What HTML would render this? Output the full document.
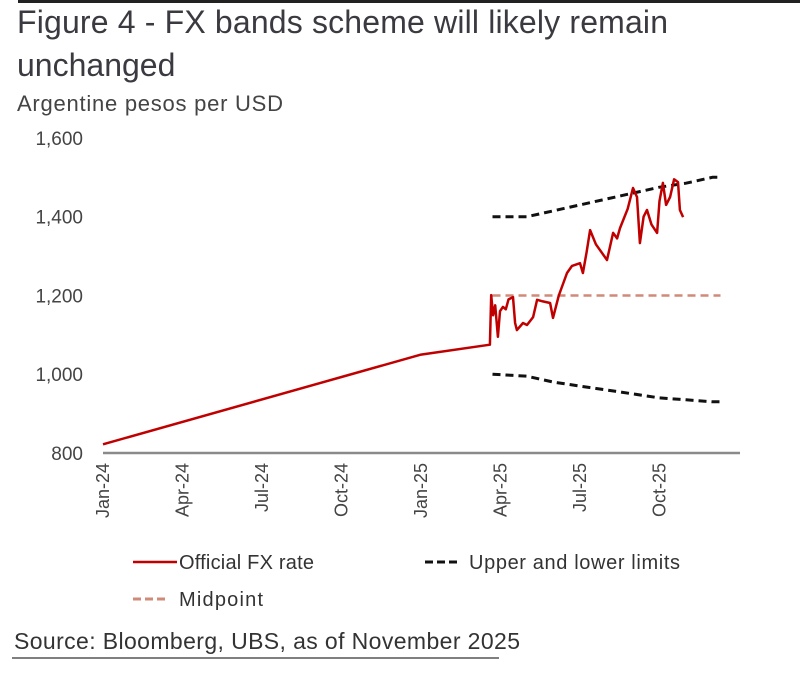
<!DOCTYPE html>
<html><head><meta charset="utf-8"><style>
body{margin:0;background:#fff;width:800px;height:688px;overflow:hidden;font-family:"Liberation Sans",sans-serif;color:#333}
svg{position:absolute;left:0;top:0}
</style></head><body>
<svg width="800" height="688">
<line x1="18" y1="1.5" x2="800" y2="1.5" stroke="#222" stroke-width="3"/>
<text x="17" y="33" font-size="32" fill="#3a3a40" textLength="651">Figure 4 - FX bands scheme will likely remain</text>
<text x="17" y="76" font-size="32" fill="#3a3a40">unchanged</text>
<text x="17" y="111" font-size="22" fill="#444" textLength="266">Argentine pesos per USD</text>
<g id="yticks"></g>
<g id="xticks"></g>
<line x1="103" y1="453" x2="740" y2="453" stroke="#8a8a8a" stroke-width="2.5"/>
<g id="series"></g>
<g font-size="20" fill="#333">
<g><line x1="133" y1="562" x2="177" y2="562" stroke="#c00000" stroke-width="2.5"/><text x="179" y="569" textLength="135">Official FX rate</text></g>
<g><line x1="425" y1="562" x2="461" y2="562" stroke="#111" stroke-width="3" stroke-dasharray="8,4"/><text x="469" y="569" textLength="211">Upper and lower limits</text></g>
<g><line x1="133" y1="599" x2="169" y2="599" stroke="#d08a78" stroke-width="3" stroke-dasharray="8,4"/><text x="179" y="606" textLength="84">Midpoint</text></g>
</g>
<text x="14" y="649" font-size="23" fill="#333" textLength="506">Source: Bloomberg, UBS, as of November 2025</text>
<line x1="12" y1="658" x2="499" y2="658" stroke="#555" stroke-width="1.5"/>
</svg>
<script>
const yTickValues=[800,1000,1200,1400,1600];
const yTickLabels=["800","1,000","1,200","1,400","1,600"];
const xTickMonths=[0,3,6,9,12,15,18,21];
const xTickLabels=["Jan-24","Apr-24","Jul-24","Oct-24","Jan-25","Apr-25","Jul-25","Oct-25"];
const fxMonths=[0,9,12,14.6,14.65,14.72,14.8,14.9,14.98,15.09,15.2,15.3,15.47,15.55,15.62,15.85,16.0,16.23,16.38,16.6,16.87,16.98,17.2,17.51,17.7,18.0,18.11,18.25,18.38,18.6,19.02,19.25,19.4,19.51,19.8,20.0,20.15,20.26,20.4,20.53,20.7,20.91,21.0,21.13,21.25,21.4,21.55,21.7,21.77,21.89];
const fxValues=[822,993,1050,1075,1201,1150,1175,1095,1160,1171,1165,1190,1196,1130,1112,1130,1125,1145,1189,1185,1181,1143,1200,1257,1275,1282,1257,1310,1366,1330,1290,1359,1345,1371,1420,1473,1450,1333,1400,1417,1380,1359,1440,1486,1430,1450,1495,1488,1417,1399];
const bandMonths=[14.7,16,17,18,19,20,21,22,23,23.3];
const upperValues=[1400,1400,1415,1430,1445,1460,1475,1485,1500,1500];
const lowerValues=[1000,995,980,970,960,950,940,935,930,930];
const midValues=[1200,1200,1200,1200,1200,1200,1200,1200,1200,1200];

const NS="http://www.w3.org/2000/svg";
const xS=m=>103+m*26.5;
const yS=v=>453-(v-800)*0.3938;
function mk(tag,attrs,parent){const e=document.createElementNS(NS,tag);for(const k in attrs)e.setAttribute(k,attrs[k]);parent.appendChild(e);return e;}
const yg=document.getElementById('yticks');
yTickValues.forEach((v,i)=>{
  const t=mk('text',{x:83,y:yS(v)+7,'text-anchor':'end','font-size':19,fill:'#444'},yg);
  
  
  t.textContent=yTickLabels[i];
});
const xg=document.getElementById('xticks');
xTickMonths.forEach((m,i)=>{
  const x=xS(m)+6;
  const t=mk('text',{x:x,y:463,'text-anchor':'end','font-size':18,fill:'#444',transform:`rotate(-90 ${x} 463)`},xg);
  
  
  t.textContent=xTickLabels[i];
});
const sg=document.getElementById('series');
function path(ms,vs,style,name){
  const d=ms.map((m,i)=>(i?'L':'M')+xS(m).toFixed(1)+','+yS(vs[i]).toFixed(1)).join(' ');
  const p=mk('path',Object.assign({d:d,fill:'none'},style),sg);
  
  
}
path(bandMonths,midValues,{stroke:'#d08a78','stroke-width':2.5,'stroke-dasharray':'8,5'},'midpoint-line');
path(bandMonths,upperValues,{stroke:'#111','stroke-width':3,'stroke-dasharray':'8,5'},'upper-limit-line');
path(bandMonths,lowerValues,{stroke:'#111','stroke-width':3,'stroke-dasharray':'8,5'},'lower-limit-line');
path(fxMonths,fxValues,{stroke:'#c00000','stroke-width':2.5,'stroke-linejoin':'round'},'official-fx-line');
</script>
</body></html>
